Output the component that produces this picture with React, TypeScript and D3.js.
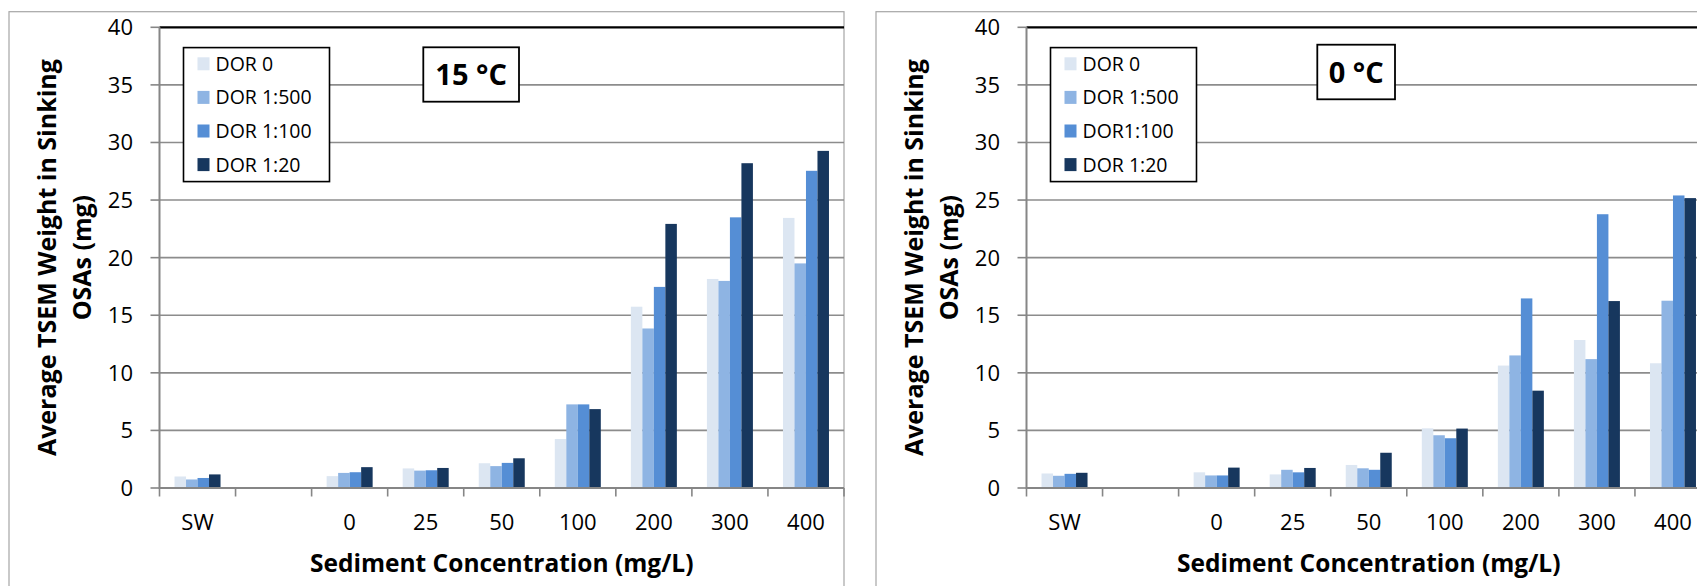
import React from "react";
import * as d3 from "d3";

const categories = ["SW", "gap", "0", "25", "50", "100", "200", "300", "400"];
const categoryLabels = ["SW", "", "0", "25", "50", "100", "200", "300", "400"];
const yTicks = [0, 5, 10, 15, 20, 25, 30, 35, 40];

const seriesKeys = ["s0", "s500", "s100", "s20"];
const legendLeft = ["DOR 0", "DOR 1:500", "DOR 1:100", "DOR 1:20"];
const legendRight = ["DOR 0", "DOR 1:500", "DOR1:100", "DOR 1:20"];
const colors = ["#dce6f2", "#8eb4e3", "#558ed5", "#17375e"];

// 15 °C
const warmDor0 = [1.0, null, 1.03, 1.7, 2.15, 4.25, 15.74, 18.15, 23.45];
const warmDor500 = [0.74, null, 1.31, 1.51, 1.9, 7.26, 13.85, 17.98, 19.5];
const warmDor100 = [0.87, null, 1.37, 1.54, 2.18, 7.26, 17.46, 23.5, 27.54];
const warmDor20 = [1.18, null, 1.81, 1.74, 2.58, 6.85, 22.93, 28.2, 29.27];

// 0 °C
const coldDor0 = [1.26, null, 1.36, 1.18, 2.0, 5.18, 10.63, 12.85, 10.83];
const coldDor500 = [1.06, null, 1.09, 1.58, 1.71, 4.58, 11.51, 11.19, 16.26];
const coldDor100 = [1.23, null, 1.09, 1.36, 1.58, 4.32, 16.46, 23.77, 25.4];
const coldDor20 = [1.32, null, 1.77, 1.74, 3.06, 5.16, 8.45, 16.23, 25.17];

const FONT = "'Open Sans', 'Noto Sans', sans-serif";
const PLOT_TOP = 27.3;
const PLOT_BOTTOM = 488;
const PLOT_W = 684.5;

type PanelProps = {
  frameX: number;
  plotX: number;
  series: (number | null)[][];
  legend: string[];
  title: string;
  titleBox: { x: number; y: number; w: number; h: number };
};

function Panel({ frameX, plotX, series, legend, title, titleBox }: PanelProps) {
  const y = d3.scaleLinear().domain([0, 40]).range([PLOT_BOTTOM, PLOT_TOP]);
  const x0 = d3.scaleBand<string>().domain(categories).range([plotX, plotX + PLOT_W]).padding(0);
  const bw = x0.bandwidth();
  const gw = 46;
  const x1 = d3
    .scaleBand<string>()
    .domain(seriesKeys)
    .range([(bw - gw) / 2, (bw + gw) / 2])
    .padding(0);
  const plotCx = plotX + PLOT_W / 2;
  const plotCy = (PLOT_TOP + PLOT_BOTTOM) / 2;
  const boundaries = categories.map((c) => x0(c) as number).concat([plotX + PLOT_W]);

  return (
    <g>
      {/* outer frame */}
      <rect x={frameX} y={11.7} width={835} height={700} fill="#fff" stroke="#a6a6a6" strokeWidth={1.2} />
      {/* gridlines */}
      {yTicks
        .filter((t) => t > 0 && t < 40)
        .map((t) => (
          <line key={t} x1={plotX} x2={plotX + PLOT_W} y1={y(t)} y2={y(t)} stroke="#8c8c8c" strokeWidth={1.6} />
        ))}
      <line x1={plotX} x2={plotX + PLOT_W} y1={y(40)} y2={y(40)} stroke="#000" strokeWidth={2.2} />
      {/* bars */}
      {series.map((vals, si) =>
        vals.map((v, ci) =>
          v == null ? null : (
            <rect
              key={si + "-" + ci}
              x={(x0(categories[ci]) as number) + (x1(seriesKeys[si]) as number)}
              y={y(v)}
              width={x1.bandwidth()}
              height={y(0) - y(v)}
              fill={colors[si]}
            />
          )
        )
      )}
      {/* y axis */}
      <line x1={plotX} x2={plotX} y1={PLOT_TOP} y2={PLOT_BOTTOM + 1} stroke="#868686" strokeWidth={2} />
      {yTicks.map((t) => (
        <g key={t}>
          <line x1={plotX - 9} x2={plotX} y1={y(t)} y2={y(t)} stroke="#868686" strokeWidth={1.6} />
          <text x={plotX - 26.5} y={y(t) + 7.9} textAnchor="end" fontFamily={FONT} fontSize={22} fill="#000">
            {t}
          </text>
        </g>
      ))}
      {/* x axis */}
      <line x1={plotX} x2={plotX + PLOT_W} y1={PLOT_BOTTOM} y2={PLOT_BOTTOM} stroke="#868686" strokeWidth={2} />
      {boundaries.map((bx, i) => (
        <line key={i} x1={bx} x2={bx} y1={PLOT_BOTTOM} y2={PLOT_BOTTOM + 8.5} stroke="#868686" strokeWidth={1.6} />
      ))}
      {categories.map((c, i) => (
        <text
          key={c}
          x={(x0(c) as number) + bw / 2}
          y={529.5}
          textAnchor="middle"
          fontFamily={FONT}
          fontSize={22}
          fill="#000"
        >
          {categoryLabels[i]}
        </text>
      ))}
      {/* x title */}
      <text x={plotCx} y={571.5} textAnchor="middle" fontFamily={FONT} fontWeight="bold" fontSize={24.5} fill="#000">
        Sediment Concentration (mg/L)
      </text>
      {/* y title */}
      <g transform={`translate(${frameX + 37.5},${plotCy}) rotate(-90)`}>
        <text x={0} y={0} dy={9} textAnchor="middle" fontFamily={FONT} fontWeight="bold" fontSize={25} fill="#000">
          Average TSEM Weight in Sinking
        </text>
        <text x={0} y={35.5} dy={9} textAnchor="middle" fontFamily={FONT} fontWeight="bold" fontSize={25} fill="#000">
          OSAs (mg)
        </text>
      </g>
      {/* legend */}
      <g transform={`translate(${plotX + 24},47.6)`}>
        <rect x={0} y={0} width={146} height={134} fill="#fff" stroke="#000" strokeWidth={1.6} />
        {legend.map((l, i) => (
          <g key={l} transform={`translate(0,${i * 33.6})`}>
            <rect x={14} y={9.7} width={12} height={13} fill={colors[i]} />
            <text x={32} y={23.3} fontFamily={FONT} fontSize={19.5} fill="#000">
              {l}
            </text>
          </g>
        ))}
      </g>
      {/* title box */}
      <rect
        x={titleBox.x}
        y={titleBox.y}
        width={titleBox.w}
        height={titleBox.h}
        fill="#fff"
        stroke="#000"
        strokeWidth={1.8}
      />
      <text
        x={titleBox.x + titleBox.w / 2}
        y={titleBox.y + titleBox.h / 2 + 10.8}
        textAnchor="middle"
        fontFamily={FONT}
        fontWeight="bold"
        fontSize={29}
        fill="#000"
      >
        {title}
      </text>
    </g>
  );
}

export default function App() {
  const warm = [warmDor0, warmDor500, warmDor100, warmDor20];
  const cold = [coldDor0, coldDor500, coldDor100, coldDor20];
  return (
    <div style={{ position: "fixed", left: 0, top: 0, width: 1697, height: 586, overflow: "hidden", background: "#fff" }}>
      <svg width={1697} height={586} viewBox="0 0 1697 586">
        <rect x={0} y={0} width={1697} height={586} fill="#fff" />
        <Panel
          frameX={9}
          plotX={159.5}
          series={warm}
          legend={legendLeft}
          title="15 °C"
          titleBox={{ x: 423.3, y: 47.3, w: 95.7, h: 54.4 }}
        />
        <Panel
          frameX={876}
          plotX={1026.5}
          series={cold}
          legend={legendRight}
          title="0 °C"
          titleBox={{ x: 1317.3, y: 44.7, w: 77.7, h: 54.6 }}
        />
      </svg>
    </div>
  );
}
